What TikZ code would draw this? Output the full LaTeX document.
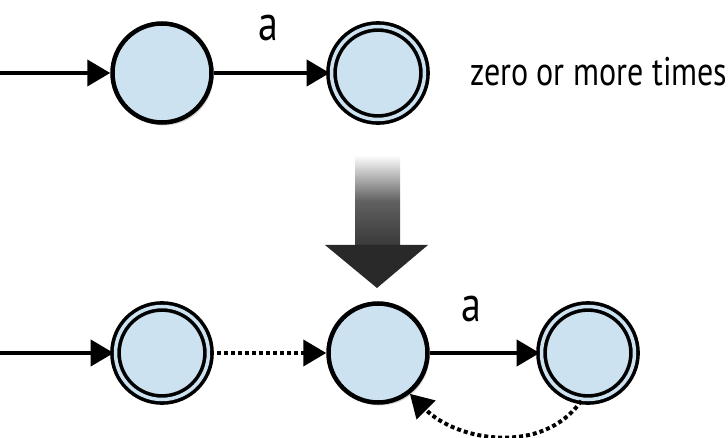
\documentclass[tikz,border=0pt]{standalone}
\usepackage{fontspec}
\setmainfont{PT Sans}
\usetikzlibrary{arrows.meta,shadows}
\definecolor{stateblue}{RGB}{204,226,240}
\newcommand{\narrow}[1]{\scalebox{0.8}[1]{#1}}
\begin{document}
\begin{tikzpicture}[
  x=1pt,y=-1pt,
  >={Triangle[length=23pt,width=26pt]},
  state/.style={circle,draw,line width=4.5pt,fill=stateblue,minimum size=99pt,inner sep=0pt,
    drop shadow={opacity=0.35,shadow xshift=2pt,shadow yshift=-3pt}},
  accept/.style={state,double=stateblue,double distance=3.5pt,line width=3.6pt,minimum size=93pt},
  edge/.style={->,line width=4pt},
  dots/.style={edge,dash pattern=on 4pt off 3pt},
  lbl/.style={font=\fontsize{50}{52}\selectfont}
]
\useasboundingbox (0,0) rectangle (728,438);
% before
\coordinate (s0) at (0,73);
\node[state] (p) at (162,73) {};
\node[accept] (q) at (378,73) {};
\draw[edge] (s0)--(p);
\draw[edge] (p)--(q);
\node[lbl] (la) at (268,28) {\narrow{a}};
\node[font=\fontsize{40}{42}\selectfont,anchor=base west,inner sep=0pt] (txt) at (470,86) {\narrow{zero or more times}};
% big arrow
\shade[top color=white,bottom color=black!78,middle color=black!62] (355,155) rectangle (400,247);
\fill[black!84] (325,245) -- (428,245) -- (377,288) -- cycle;
% after
\coordinate (s1) at (0,353);
\node[accept] (a) at (162,353) {};
\node[state] (b) at (378,353) {};
\node[accept] (c) at (588,353) {};
\draw[edge] (s1)--(a);
\draw[dots] (a)--(b);
\draw[edge] (b)--(c);
\node[lbl] (lb) at (471,309) {\narrow{a}};
\draw[dots] (c.-98) to[out=-125,in=-45] (b.-52);
\end{tikzpicture}
\end{document}
